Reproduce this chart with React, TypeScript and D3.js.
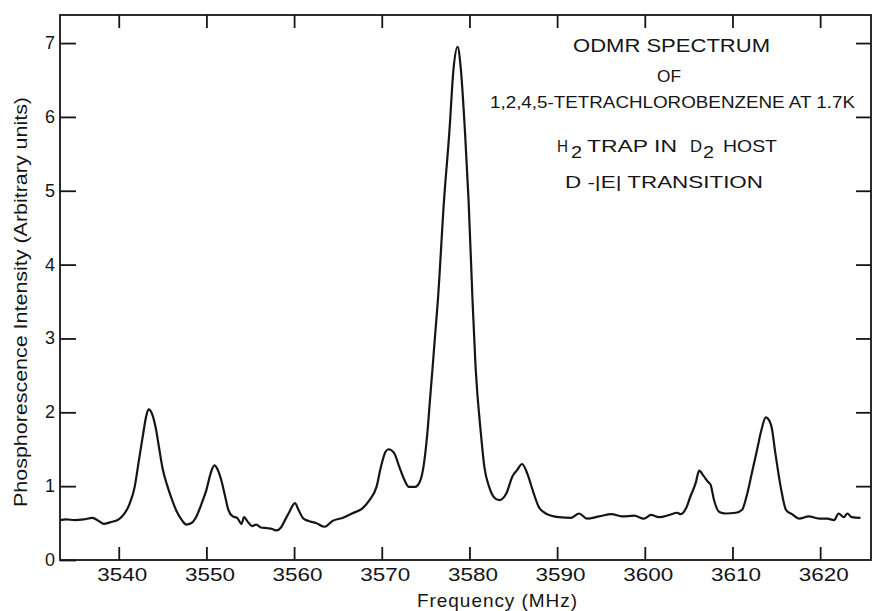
import { useEffect, useRef } from "react";
import * as d3 from "d3";

// spectrum trace (MHz, arbitrary units)
const freq = [
  3533.3, 3534.0, 3535.0, 3536.0, 3537.0, 3537.7, 3538.3, 3539.0, 3540.0, 3540.6,
  3541.2, 3541.8, 3542.3, 3542.8, 3543.1, 3543.4, 3543.8, 3544.2, 3544.6, 3545.0,
  3545.5, 3546.0, 3546.6, 3547.2, 3547.7, 3548.3, 3548.9, 3549.5, 3550.0, 3550.5,
  3550.9, 3551.3, 3551.7, 3552.1, 3552.5, 3553.0, 3553.5, 3554.0, 3554.3, 3554.7,
  3555.2, 3555.7, 3556.2, 3557.0, 3557.5, 3558.0, 3558.5, 3559.0, 3559.5, 3559.9,
  3560.1, 3560.5, 3561.0, 3561.6, 3562.5, 3563.5, 3564.4, 3565.5, 3566.6, 3567.8,
  3568.6, 3569.4, 3569.9, 3570.4, 3570.75, 3571.4, 3572.0, 3572.6, 3573.1, 3573.8,
  3574.3, 3574.7, 3575.2, 3575.5, 3575.8, 3576.1, 3576.4, 3577.1, 3577.7, 3578.2,
  3578.65, 3579.0, 3579.5, 3579.9, 3580.35, 3580.7, 3581.3, 3581.7, 3582.25, 3582.8,
  3583.4, 3584.2, 3584.9, 3585.45, 3586.0, 3586.6, 3587.2, 3587.9, 3588.7, 3590.2,
  3591.6, 3592.5, 3593.4, 3594.8, 3596.2, 3597.4, 3598.8, 3599.9, 3600.7, 3601.6,
  3602.8, 3603.7, 3604.1, 3604.7, 3605.2, 3605.8, 3606.2, 3606.7, 3607.2, 3607.5,
  3607.9, 3608.5, 3609.2, 3610.4, 3611.1, 3611.6, 3612.2, 3612.8, 3613.3, 3613.8,
  3614.4, 3614.9, 3615.5, 3616.1, 3616.8, 3617.6, 3618.7, 3619.9, 3620.8, 3621.6,
  3622.1, 3622.7, 3623.1, 3623.6, 3624.6,
];
const intensity = [
  0.54, 0.55, 0.54, 0.55, 0.57, 0.53, 0.49, 0.51, 0.55, 0.62,
  0.75, 0.98, 1.35, 1.72, 1.93, 2.04, 1.98, 1.8, 1.52, 1.24,
  1.02, 0.84, 0.66, 0.54, 0.48, 0.5, 0.6, 0.78, 0.95, 1.18,
  1.28, 1.22, 1.08, 0.88, 0.68, 0.59, 0.57, 0.49, 0.58, 0.52,
  0.46, 0.48, 0.44, 0.43, 0.42, 0.4, 0.44, 0.55, 0.66, 0.75,
  0.77, 0.68, 0.57, 0.53, 0.5, 0.45, 0.53, 0.57, 0.63, 0.7,
  0.81, 0.99, 1.26, 1.46, 1.5, 1.45, 1.26, 1.08, 0.99, 0.99,
  1.05, 1.22, 1.72, 2.17, 2.61, 3.07, 3.52, 4.87, 5.78, 6.67,
  6.95, 6.67, 5.78, 4.87, 3.52, 2.61, 1.72, 1.26, 0.99, 0.85,
  0.81, 0.9, 1.13, 1.22, 1.3, 1.17, 0.95, 0.72, 0.63, 0.58,
  0.57, 0.63, 0.56, 0.59, 0.62, 0.59, 0.6, 0.56, 0.61, 0.58,
  0.61, 0.64, 0.62, 0.7, 0.86, 1.04, 1.21, 1.14, 1.06, 1.02,
  0.81, 0.65, 0.63, 0.64, 0.68, 0.86, 1.17, 1.49, 1.76, 1.93,
  1.83, 1.44, 0.99, 0.68, 0.62, 0.56, 0.59, 0.56, 0.56, 0.54,
  0.63, 0.58, 0.63, 0.58, 0.57,
];
const xTicks = [3540, 3550, 3560, 3570, 3580, 3590, 3600, 3610, 3620];
const yTicks = [0, 1, 2, 3, 4, 5, 6, 7];

const ink = "#151515";
const font = "'Liberation Sans', Arial, sans-serif";
const left = 60, right = 871, top = 15, bottom = 560;

const App = () => {
  const ref = useRef<SVGSVGElement>(null);

  useEffect(() => {
    const svg = d3.select(ref.current);
    svg.selectAll("*").remove();

    const x = d3.scaleLinear().domain([3533.3, 3625.8]).range([left, right]);
    const y = d3.scaleLinear().domain([0, 7.38]).range([bottom, top]);

    const style = (g: any) => {
      g.select(".domain").remove();
      g.selectAll("line").attr("stroke", ink).attr("stroke-width", 1.8);
      g.selectAll("text").attr("fill", ink).attr("font-family", font);
    };

    svg.append("g")
      .attr("transform", `translate(0,${bottom})`)
      .call(d3.axisBottom(x).tickValues(xTicks).tickSize(-13).tickPadding(9).tickFormat(d3.format("d")))
      .call(style)
      .call(g => g.selectAll("text")
        .attr("font-size", 17.5)
        .attr("textLength", 50)
        .attr("lengthAdjust", "spacingAndGlyphs")
        .attr("dx", 3));

    svg.append("g")
      .attr("transform", `translate(0,${top})`)
      .call(d3.axisTop(x).tickValues(xTicks).tickSize(-13).tickFormat(() => ""))
      .call(style);

    svg.append("g")
      .attr("transform", `translate(${left},0)`)
      .call(d3.axisLeft(y).tickValues(yTicks).tickSize(-16).tickPadding(5).tickFormat(d3.format("d")))
      .call(style)
      .call(g => g.selectAll("text").attr("font-size", 18).attr("dy", "0.3em"));

    svg.append("g")
      .attr("transform", `translate(${right},0)`)
      .call(d3.axisRight(y).tickValues(yTicks.slice(1)).tickSize(-15).tickFormat(() => ""))
      .call(style);

    svg.append("rect")
      .attr("x", left).attr("y", top)
      .attr("width", right - left).attr("height", bottom - top)
      .attr("fill", "none").attr("stroke", ink).attr("stroke-width", 1.8);

    const line = d3.line<number>()
      .x((_, i) => x(freq[i]))
      .y(d => y(d))
      .curve(d3.curveMonotoneX);

    svg.append("path")
      .datum(intensity)
      .attr("d", line)
      .attr("fill", "none")
      .attr("stroke", ink)
      .attr("stroke-width", 2.2)
      .attr("stroke-linejoin", "round");

    // axis titles
    svg.append("text")
      .attr("transform", "translate(27,302) rotate(-90)")
      .attr("text-anchor", "middle")
      .attr("font-family", font).attr("font-size", 18).attr("fill", ink)
      .attr("textLength", 410).attr("lengthAdjust", "spacingAndGlyphs")
      .text("Phosphorescence Intensity (Arbitrary units)");

    svg.append("text")
      .attr("x", 417).attr("y", 607)
      .attr("font-family", font).attr("font-size", 19).attr("fill", ink)
      .attr("textLength", 160)
      .text("Frequency (MHz)");

    // annotation block
    const note = (t: string, px: number, py: number, size: number, len?: number) => {
      const el = svg.append("text")
        .attr("x", px).attr("y", py)
        .attr("font-family", font).attr("font-size", size).attr("fill", ink)
        .text(t);
      if (len) el.attr("textLength", len).attr("lengthAdjust", "spacingAndGlyphs");
    };
    note("ODMR SPECTRUM", 573, 52, 18, 197);
    note("OF", 657, 82, 17, 24);
    note("1,2,4,5-TETRACHLOROBENZENE AT 1.7K", 490, 108, 16.5, 365);
    note("H", 557, 152, 17, 11);
    note("2", 571, 158, 16, 11);
    note("TRAP IN", 587, 152, 17, 90);
    note("D", 690, 152, 17, 12);
    note("2", 703, 158, 16, 11);
    note("HOST", 723, 152, 17, 54);
    note("D -|E| TRANSITION", 565, 188, 17, 198);
  }, []);

  return (
    <svg
      ref={ref}
      width={872}
      height={611}
      style={{ position: "absolute", left: 0, top: 0, background: "#fff" }}
    />
  );
};

export default App;
